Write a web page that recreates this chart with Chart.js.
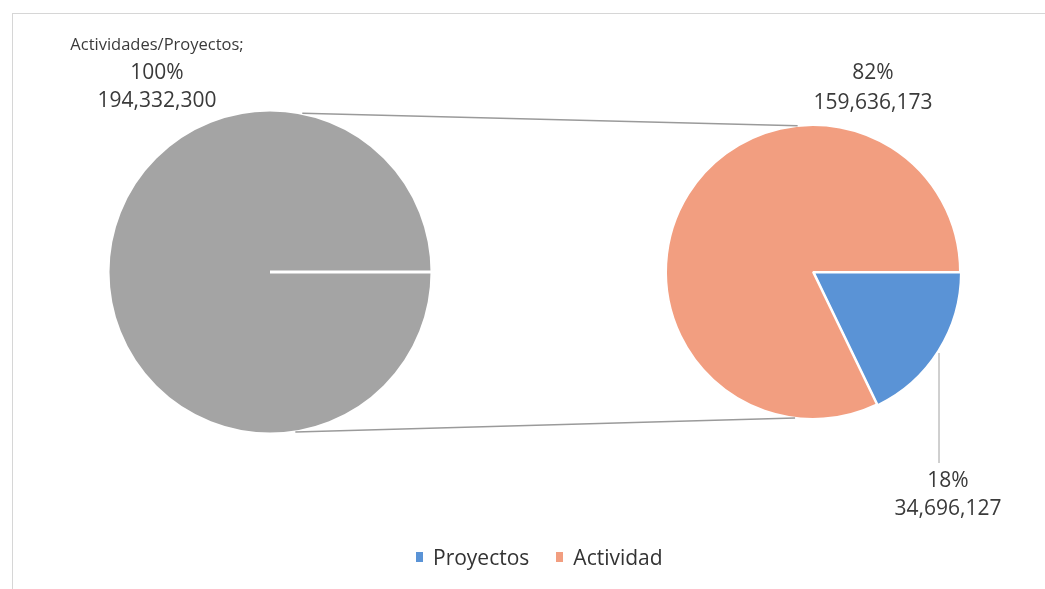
<!DOCTYPE html>
<html><head><meta charset="utf-8">
<script src="https://cdn.jsdelivr.net/npm/chart.js@4.4.1/dist/chart.umd.min.js"></script>
<style>
html,body{margin:0;padding:0;background:#fff;}
#wrap{position:relative;width:1045px;height:589px;overflow:hidden;background:#fff;}
#frame{position:absolute;left:12px;top:13px;width:1200px;height:800px;border-left:1px solid #d6d6d6;border-top:1px solid #d6d6d6;}
canvas{position:absolute;left:0;top:0;}
#legend{position:absolute;top:543px;left:416px;display:flex;align-items:center;font-family:"Open Sans",sans-serif;font-size:21px;color:#333;}
#legend .sw{display:inline-block;width:7px;height:10px;margin-right:10px;}
#legend .it{display:flex;align-items:center;margin-right:27px;}
</style></head>
<body><div id="wrap"><div id="frame"></div>
<canvas id="left" width="1045" height="589"></canvas>
<canvas id="right" width="1045" height="589"></canvas>
<div id="legend"></div>
</div>
<script>
const totalLabels = ['Actividades/Proyectos'];
const totalValues = [194332300];
const detailLabels = ['Proyectos', 'Actividad'];
const detailValues = [34696127, 159636173];
const totalColors = ['#A4A4A4'];
const detailColors = ['#5A93D6', '#F29E80'];

const fmt = v => v.toLocaleString('en-US');
const detailTotal = detailValues.reduce((a, b) => a + b, 0);
const pct = v => Math.round(v / detailTotal * 100) + '%';

const leftChart = new Chart(document.getElementById('left'), {
  type: 'pie',
  data: { labels: totalLabels, datasets: [{ data: totalValues, backgroundColor: totalColors, borderColor: '#ffffff', borderWidth: 3 }] },
  options: {
    responsive: false, animation: false, rotation: 90, radius: 162,
    layout: { padding: { left: 0, right: 505, top: 0, bottom: 45 } },
    plugins: { legend: { display: false }, tooltip: { enabled: false } }
  }
});

const overlay = {
  id: 'overlay',
  afterDraw(chart) {
    const ctx = chart.ctx;
    const la = leftChart.getDatasetMeta(0).data[0];
    const ra = chart.getDatasetMeta(0).data[1];
    const cx2 = ra.x, cy2 = ra.y;
    const d2r = Math.PI / 180;
    const pt = (x, y, r, a) => [x + r * Math.cos(a * d2r), y + r * Math.sin(a * d2r)];
    ctx.save();
    ctx.strokeStyle = '#9a9a9a';
    ctx.lineWidth = 1.5;
    const pairs = [[-78.5, -96], [81, 97]];
    pairs.forEach(([a1, a2]) => {
      const p1 = pt(la.x, la.y, la.outerRadius, a1);
      const p2 = pt(cx2, cy2, ra.outerRadius, a2);
      ctx.beginPath(); ctx.moveTo(p1[0], p1[1]); ctx.lineTo(p2[0], p2[1]); ctx.stroke();
    });
    ctx.strokeStyle = '#a0a0a0'; ctx.lineWidth = 1;
    ctx.beginPath(); ctx.moveTo(939, 353); ctx.lineTo(939, 463); ctx.stroke();

    ctx.fillStyle = '#3a3a3a';
    ctx.textAlign = 'center'; ctx.textBaseline = 'middle';
    ctx.font = '16.5px "Open Sans"';
    ctx.fillText(totalLabels[0] + ';', 157, 45);
    ctx.font = '21px "Open Sans"';
    ctx.fillText('100%', 157, 73);
    ctx.fillText(fmt(totalValues[0]), 157, 101);
    ctx.fillText(pct(detailValues[1]), 873, 73);
    ctx.fillText(fmt(detailValues[1]), 873, 103);
    ctx.fillText(pct(detailValues[0]), 948, 481);
    ctx.fillText(fmt(detailValues[0]), 948, 509);
    ctx.restore();
  }
};

const rightChart = new Chart(document.getElementById('right'), {
  type: 'pie',
  data: { labels: detailLabels, datasets: [{ data: detailValues, backgroundColor: detailColors, borderColor: '#ffffff', borderWidth: 2, offset: [4, 0] }] },
  options: {
    responsive: false, animation: false, rotation: 90, radius: 147,
    layout: { padding: { left: 581, right: 0, top: 0, bottom: 45 } },
    plugins: { legend: { display: false }, tooltip: { enabled: false } }
  },
  plugins: [overlay]
});

const lg = document.getElementById('legend');
detailLabels.forEach((l, i) => {
  const it = document.createElement('span'); it.className = 'it';
  const sw = document.createElement('span'); sw.className = 'sw'; sw.style.background = detailColors[i];
  it.appendChild(sw); it.appendChild(document.createTextNode(l));
  lg.appendChild(it);
});
</script></body></html>
